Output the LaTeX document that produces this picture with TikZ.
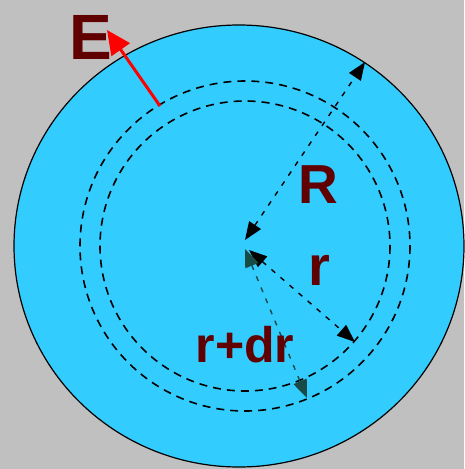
\documentclass[tikz,border=0pt]{standalone}
\usepackage{fontspec}
\setmainfont{Liberation Sans}
\usetikzlibrary{arrows.meta}
\definecolor{bgray}{HTML}{C0C0C0}
\definecolor{sphere}{HTML}{33CCFF}
\definecolor{lbl}{HTML}{600000}
\definecolor{tealdk}{HTML}{184A46}
\tikzset{
  lab/.style={text=lbl, font=\bfseries, inner sep=0pt, anchor=center},
  shell/.style={black, line width=1.6pt, dash pattern=on 8pt off 6pt},
  radius line/.style={line width=1.4pt, dash pattern=on 5pt off 7pt, {Triangle[length=18pt,width=14pt]}-{Triangle[length=18pt,width=14pt]}},
}
\begin{document}
\begin{tikzpicture}[x=1pt,y=-1pt]
\useasboundingbox (0,0) rectangle (464,469);
\fill[bgray] (0,0) rectangle (464,469);
\filldraw[fill=sphere, draw=black, line width=1.2pt] (239,246) ellipse [x radius=225, y radius=221];
\coordinate (C) at (245,246);
\draw[shell] (C) circle [radius=145];
\draw[shell] (C) circle [radius=165];
\coordinate (Rc) at (245,240);
\coordinate (Rend) at (365,62);
\coordinate (rc) at (249,250);
\coordinate (rend) at (355,342);
\coordinate (dc) at (245,249);
\coordinate (dend) at (307,398);
\draw[radius line, black] (Rc) -- (Rend);
\draw[radius line, black] (rc) -- (rend);
\draw[radius line, tealdk] (dc) -- (dend);
\coordinate (Es) at (160,106);
\coordinate (Ee) at (107,30);
\draw[red, line width=3pt, -{Triangle[length=24pt,width=22pt]}] (Es) -- (Ee);
\node[lab, font=\fontsize{64}{64}\selectfont\bfseries] (E) at (91,37) {E};
\node[lab, font=\fontsize{55}{55}\selectfont\bfseries] (R) at (318,185) {R};
\node[lab, font=\fontsize{56}{56}\selectfont\bfseries] (r) at (319,270) {r};
\node[lab, font=\fontsize{50}{50}\selectfont\bfseries] (rdr) at (245,345) {r+dr};
\end{tikzpicture}
\end{document}
